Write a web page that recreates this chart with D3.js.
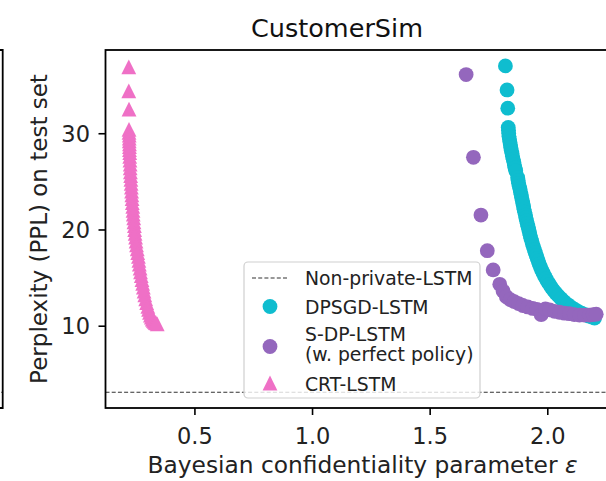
<!DOCTYPE html>
<html>
<head>
<meta charset="utf-8">
<script src="https://cdn.jsdelivr.net/npm/d3@7"></script>
<style>
  html, body { margin: 0; padding: 0; background: #fff; }
  svg { display: block; font-family: "DejaVu Sans", sans-serif; }
</style>
</head>
<body>
<div id="chart"></div>
<script>
// ---------------- data ----------------
const chartTitle = "CustomerSim";
const xLabel = "Bayesian confidentiality parameter ";
const yLabel = "Perplexity (PPL) on test set";
const xTicks = [0.5, 1.0, 1.5, 2.0];
const yTicks = [10, 20, 30];
const nonPrivatePpl = 3.09;

const dpsgdEps = [1.822,1.829,1.832,1.834,1.835,1.836,1.837,1.839,1.841,1.843,1.845,1.847,1.850,1.852,1.855,1.858,1.860,1.863,1.866,1.874,1.876,1.878,1.881,1.884,1.886,1.889,1.891,1.894,1.896,1.899,1.901,1.904,1.907,1.909,1.912,1.915,1.918,1.921,1.924,1.927,1.930,1.934,1.937,1.941,1.945,1.949,1.953,1.957,1.962,1.966,1.971,1.976,1.982,1.988,1.994,2.001,2.009,2.017,2.026,2.036,2.047,2.059,2.072,2.087,2.103,2.116,2.130,2.146,2.162,2.176,2.190,2.201];
const dpsgdPpl = [37.0,34.5,32.6,30.6,30.3,30.0,29.7,29.4,29.1,28.8,28.5,28.2,27.9,27.6,27.3,27.0,26.7,26.4,26.1,25.4,25.1,24.8,24.5,24.2,23.9,23.6,23.3,23.0,22.7,22.4,22.1,21.8,21.5,21.2,20.9,20.6,20.3,20.0,19.7,19.4,19.1,18.8,18.5,18.2,17.9,17.6,17.3,17.0,16.7,16.4,16.1,15.8,15.5,15.2,14.9,14.6,14.3,14.0,13.7,13.4,13.1,12.8,12.5,12.2,11.9,11.7,11.5,11.3,11.15,11.0,10.9,10.8];

const sdpEps = [1.655,1.686,1.718,1.745,1.770,1.798,1.812,1.826,1.843,1.860,1.878,1.896,1.917,1.938,1.956,1.974,1.992,2.010,2.031,2.052,2.073,2.094,2.115,2.137,2.158,2.179,2.195,2.208];
const sdpPpl = [36.1,27.5,21.5,17.8,15.8,14.3,13.6,13.0,12.7,12.5,12.3,12.1,11.95,11.8,11.7,11.15,11.75,11.65,11.5,11.4,11.3,11.25,11.15,11.1,11.1,11.1,11.15,11.2];

const crtEps = [0.221,0.221,0.222,0.222,0.222,0.223,0.223,0.223,0.224,0.224,0.224,0.225,0.225,0.226,0.227,0.227,0.228,0.229,0.230,0.231,0.232,0.233,0.234,0.235,0.236,0.238,0.239,0.240,0.242,0.243,0.245,0.246,0.248,0.250,0.252,0.254,0.257,0.259,0.262,0.264,0.266,0.269,0.271,0.274,0.277,0.280,0.283,0.286,0.289,0.293,0.297,0.302,0.305,0.309,0.313,0.317,0.321,0.325,0.329,0.333,0.337,0.342];
const crtPpl = [36.9,34.4,32.5,30.4,30.1,29.8,29.5,29.2,28.9,28.6,28.3,28.0,27.6,27.2,26.8,26.4,26.0,25.6,25.2,24.8,24.4,24.0,23.6,23.2,22.8,22.4,22.0,21.6,21.2,20.8,20.4,20.0,19.6,19.2,18.8,18.4,18.0,17.6,17.2,16.8,16.4,16.0,15.6,15.2,14.8,14.4,14.0,13.6,13.2,12.8,12.4,12.0,11.7,11.4,11.1,10.9,10.7,10.55,10.45,10.35,10.3,10.2];

const legendLabels = [["Non-private-LSTM"], ["DPSGD-LSTM"], ["S-DP-LSTM", "(w. perfect policy)"], ["CRT-LSTM"]];
const colors = { dpsgd: "#0fbdcf", sdp: "#9467bd", crt: "#ef70c6" };

// ---------------- layout ----------------
const W = 606, H = 481;
const plot = { left: 105.5, right: 619.5, top: 50, bottom: 408 };
const R = 7.4;

const svg = d3.select("#chart").append("svg")
  .attr("width", W).attr("height", H)
  .attr("viewBox", `0 0 ${W} ${H}`);
svg.append("rect").attr("width", W).attr("height", H).attr("fill", "#fff");

const x = d3.scaleLinear().domain([0.122, 2.307]).range([plot.left, plot.right]);
const y = d3.scaleLinear().domain([1.45, 38.65]).range([plot.bottom, plot.top]);

// partial neighbour subplot on the far left
const left = svg.append("g");
left.append("line").attr("x1", -5).attr("x2", 2.7).attr("y1", y(nonPrivatePpl)).attr("y2", y(nonPrivatePpl))
  .attr("stroke", "#333").attr("stroke-width", 1.1).attr("stroke-dasharray", "4,2.2");
left.append("path").attr("d", `M-5,${plot.top}H2.7V${plot.bottom}H-5`)
  .attr("fill", "none").attr("stroke", "#000").attr("stroke-width", 1.8);

svg.append("clipPath").attr("id", "clip").append("rect")
  .attr("x", plot.left).attr("y", plot.top)
  .attr("width", plot.right - plot.left).attr("height", plot.bottom - plot.top);

const g = svg.append("g").attr("clip-path", "url(#clip)");

// non-private line
g.append("line").attr("x1", plot.left).attr("x2", plot.right)
  .attr("y1", y(nonPrivatePpl)).attr("y2", y(nonPrivatePpl))
  .attr("stroke", "#333").attr("stroke-width", 1.1).attr("stroke-dasharray", "4,2.2");

const tri = r => `M0,${-r}L${r},${r}L${-r},${r}Z`;

g.selectAll("circle.dpsgd").data(d3.zip(dpsgdEps, dpsgdPpl)).join("circle")
  .attr("class", "dpsgd").attr("cx", d => x(d[0])).attr("cy", d => y(d[1])).attr("r", R)
  .attr("fill", colors.dpsgd);
g.selectAll("circle.sdp").data(d3.zip(sdpEps, sdpPpl)).join("circle")
  .attr("class", "sdp").attr("cx", d => x(d[0])).attr("cy", d => y(d[1])).attr("r", R)
  .attr("fill", colors.sdp);
g.selectAll("path.crt").data(d3.zip(crtEps, crtPpl)).join("path")
  .attr("class", "crt").attr("d", tri(R))
  .attr("transform", d => `translate(${x(d[0])},${y(d[1])})`)
  .attr("fill", colors.crt);

// axes
const xAxis = svg.append("g").attr("transform", `translate(0,${plot.bottom})`)
  .call(d3.axisBottom(x).tickValues(xTicks).tickFormat(d3.format(".1f")).tickSize(7).tickSizeOuter(0));
xAxis.select(".domain").remove();
xAxis.selectAll(".tick line").attr("stroke", "#000").attr("stroke-width", 1.6);
xAxis.selectAll(".tick text").attr("y", 36).attr("dy", 0)
  .attr("font-size", 22.5).attr("fill", "#222").attr("font-family", "DejaVu Sans");

const yAxis = svg.append("g").attr("transform", `translate(${plot.left},0)`)
  .call(d3.axisLeft(y).tickValues(yTicks).tickFormat(d3.format("d")).tickSize(7).tickSizeOuter(0));
yAxis.select(".domain").remove();
yAxis.selectAll(".tick line").attr("stroke", "#000").attr("stroke-width", 1.6);
yAxis.selectAll(".tick text").attr("x", -15.5).attr("dy", "0.36em")
  .attr("font-size", 22.5).attr("fill", "#222").attr("font-family", "DejaVu Sans");

// spines
svg.append("rect").attr("x", plot.left).attr("y", plot.top)
  .attr("width", plot.right - plot.left).attr("height", plot.bottom - plot.top)
  .attr("fill", "none").attr("stroke", "#000").attr("stroke-width", 1.8);

// labels
svg.append("text").attr("x", 337).attr("y", 36.7).attr("text-anchor", "middle")
  .attr("font-size", 25.5).attr("fill", "#111").text(chartTitle);
const xl = svg.append("text").attr("x", (plot.left + plot.right) / 2).attr("y", 473.3)
  .attr("text-anchor", "middle").attr("font-size", 23.3).attr("fill", "#222");
xl.append("tspan").text(xLabel);
xl.append("tspan").attr("font-style", "italic").text("ε");
svg.append("text").attr("transform", `translate(46.7,${(plot.top + plot.bottom) / 2}) rotate(-90)`)
  .attr("text-anchor", "middle").attr("font-size", 23).attr("fill", "#222").text(yLabel);

// legend
const lg = svg.append("g");
lg.append("rect").attr("x", 244).attr("y", 262).attr("width", 236).attr("height", 136).attr("rx", 4)
  .attr("fill", "#fff").attr("fill-opacity", 0.8).attr("stroke", "#cfcfcf").attr("stroke-width", 1.2);
const lgFont = 18.8, lgTextX = 305, lgMarkX = 270;
const baselines = [[285], [314], [341, 361], [391]];
legendLabels.forEach((lines, i) => {
  lines.forEach((t, j) => {
    lg.append("text").attr("x", lgTextX).attr("y", baselines[i][j])
      .attr("font-size", lgFont).attr("fill", "#222").text(t);
  });
});
lg.append("line").attr("x1", 252).attr("x2", 288).attr("y1", 278).attr("y2", 278)
  .attr("stroke", "#333").attr("stroke-width", 1.1).attr("stroke-dasharray", "4,2.2");
lg.append("circle").attr("cx", lgMarkX).attr("cy", 306.5).attr("r", R).attr("fill", colors.dpsgd);
lg.append("circle").attr("cx", lgMarkX).attr("cy", 346.5).attr("r", R).attr("fill", colors.sdp);
lg.append("path").attr("d", tri(R)).attr("transform", `translate(${lgMarkX},383)`).attr("fill", colors.crt);
</script>
</body>
</html>
